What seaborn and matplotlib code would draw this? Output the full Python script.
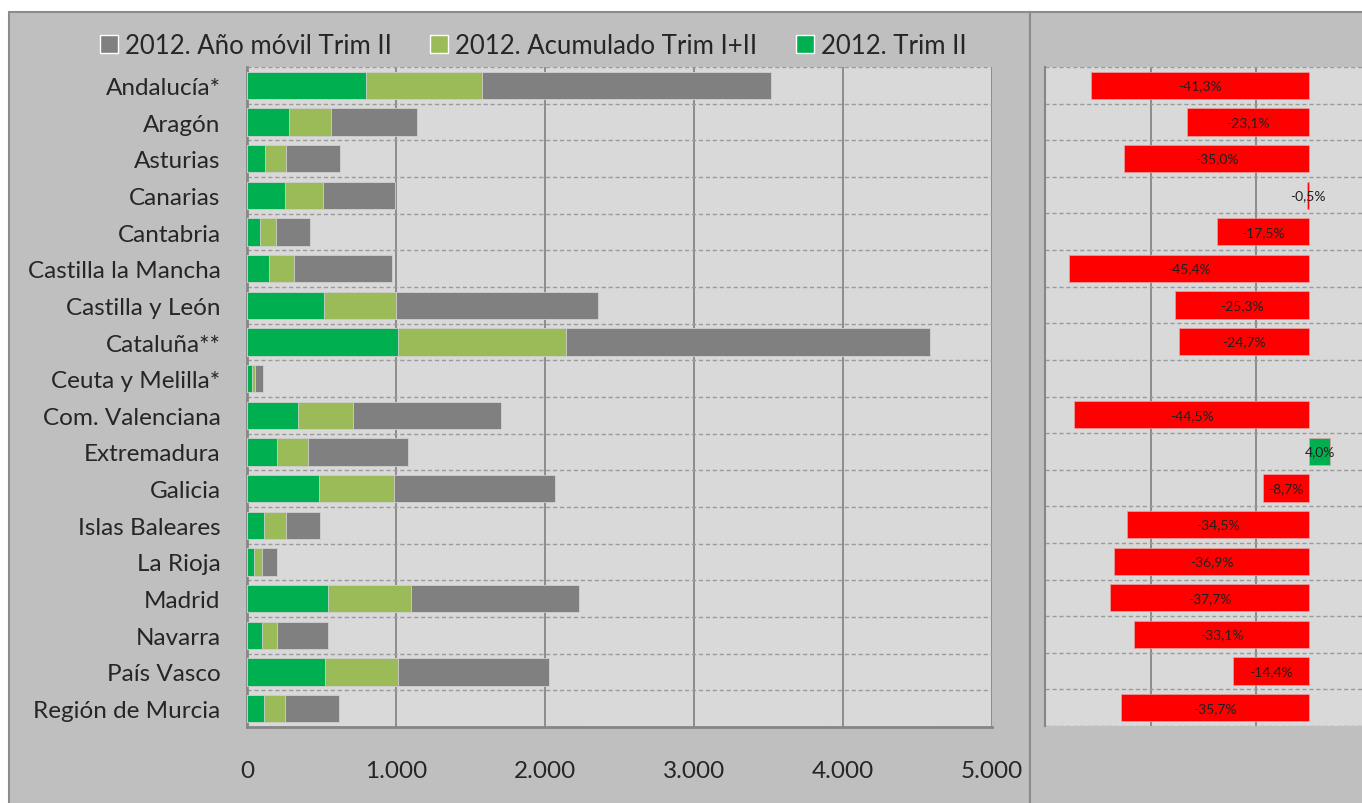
import matplotlib
matplotlib.use('Agg')
import matplotlib.pyplot as plt
from matplotlib.patches import Rectangle, Patch
import numpy as np
import pandas as pd
import seaborn as sns

# datos
regiones = ['Andalucía*', 'Aragón', 'Asturias', 'Canarias', 'Cantabria',
            'Castilla la Mancha', 'Castilla y León', 'Cataluña**', 'Ceuta y Melilla*',
            'Com. Valenciana', 'Extremadura', 'Galicia', 'Islas Baleares', 'La Rioja',
            'Madrid', 'Navarra', 'País Vasco', 'Región de Murcia']
trim_ii = [799, 285, 123, 258, 87, 150, 520, 1015, 33, 339, 201, 486, 114, 45, 544, 99, 523, 117]
acumulado = [1574, 562, 261, 508, 195, 318, 1003, 2141, 57, 712, 408, 988, 261, 99, 1102, 204, 1015, 255]
anio_movil = [3517, 1141, 622, 994, 426, 973, 2354, 4586, 105, 1706, 1081, 2066, 489, 204, 2231, 541, 2027, 616]
variacion = [-41.3, -23.1, -35.0, -0.5, -17.5, -45.4, -25.3, -24.7, np.nan, -44.5, 4.0,
             -8.7, -34.5, -36.9, -37.7, -33.1, -14.4, -35.7]
series = ['2012. Año móvil Trim II', '2012. Acumulado Trim I+II', '2012. Trim II']
xticks = [0, 1000, 2000, 3000, 4000, 5000]
xtick_labels = ['0', '1.000', '2.000', '3.000', '4.000', '5.000']

c_gris = '#808080'
c_verde_claro = '#9bbb59'
c_verde = '#00b050'

sns.set_style('white')
plt.rcParams['font.family'] = ['Lato', 'DejaVu Sans']

W, H = 1362, 804
fig = plt.figure(figsize=(W / 100, H / 100), dpi=100)

# fondos de los dos paneles
fig.patches.append(Rectangle((9 / W, -0.01), (1030 - 9) / W, (H - 13) / H + 0.01,
                             transform=fig.transFigure, facecolor='#bfbfbf',
                             edgecolor='#8c8c8c', lw=1.5, zorder=-2))
fig.patches.append(Rectangle((1030 / W, -0.01), (W - 1030) / W + 0.01, (H - 13) / H + 0.01,
                             transform=fig.transFigure, facecolor='#bfbfbf',
                             edgecolor='#8c8c8c', lw=1.5, zorder=-2))

ax = fig.add_axes([247 / W, (H - 728) / H, (992 - 247) / W, (728 - 68) / H])
ax2 = fig.add_axes([1045 / W, (H - 727) / H, (W - 1045) / W, (727 - 68) / H])

# panel izquierdo: barras superpuestas
for vals, col in [(anio_movil, c_gris), (acumulado, c_verde_claro), (trim_ii, c_verde)]:
    sns.barplot(x=vals, y=regiones, color=col, orient='h', width=0.745, saturation=1,
                edgecolor='#d0d0d0', linewidth=0.6, ax=ax, zorder=3)

ax.set_facecolor('#d9d9d9')
ax.set_xlim(0, 5000)
ax.set_ylim(17.5, -0.5)
ax.set_xticks(xticks)
ax.set_xticklabels(xtick_labels, fontsize=17.5)
ax.set_yticks(np.arange(-0.5, 18, 1), minor=True)
ax.tick_params(axis='y', which='major', length=0, pad=19, labelsize=17.5)
ax.tick_params(axis='y', which='minor', length=4, color='#868686', width=1.2, direction='out')
ax.tick_params(axis='x', which='major', length=4, color='#868686', width=1.2,
               direction='out', pad=20)
ax.grid(axis='x', which='major', color='#868686', lw=1.3, zorder=0)
ax.grid(axis='y', which='minor', color='#9a9a9a', lw=1, ls=(0, (3, 2)), zorder=0)
ax.grid(axis='y', which='major', visible=False)
ax.set_axisbelow(True)
for s in ['top', 'right']:
    ax.spines[s].set_visible(False)
for s in ['left', 'bottom']:
    ax.spines[s].set_color('#868686')
    ax.spines[s].set_linewidth(2)
ax.set_xlabel('')
ax.set_ylabel('')

handles = [Patch(facecolor=c) for c in [c_gris, c_verde_claro, c_verde]]
fig.legend(handles, series, loc='center', bbox_to_anchor=(533 / W, 1 - 46 / H), ncol=3,
           frameon=False, fontsize=18.5, handlelength=0.7, handleheight=0.7,
           handletextpad=0.27, columnspacing=1.5)

# panel derecho: variacion %
df = pd.DataFrame({'region': regiones, 'variacion': variacion})
df['signo'] = np.where(df['variacion'] < 0, 'neg', 'pos')
df = df.dropna()
sns.barplot(data=df, x='variacion', y='region', hue='signo', order=regiones,
            palette={'neg': '#ff0000', 'pos': c_verde}, dodge=False, legend=False,
            width=0.745, saturation=1, edgecolor='#e8a0a0', linewidth=0.5, ax=ax2, zorder=3)
for cont in ax2.containers:
    ax2.bar_label(cont, fmt=lambda v: f'{v:.1f}%'.replace('.', ','), label_type='center',
                  fontsize=10, color='#202020')

ax2.set_facecolor('#d9d9d9')
ax2.set_xlim(-50, 10)
ax2.set_ylim(17.5, -0.5)
ax2.set_xticks([-30, -10])
ax2.set_xticklabels([])
ax2.set_yticks([])
ax2.set_yticks(np.arange(-0.5, 18, 1), minor=True)
ax2.tick_params(which='both', length=0)
ax2.grid(axis='x', which='major', color='#868686', lw=1.3, zorder=0)
ax2.grid(axis='y', which='minor', color='#9a9a9a', lw=1, ls=(0, (3, 2)), zorder=0)
ax2.set_axisbelow(True)
for s in ['top', 'right', 'bottom']:
    ax2.spines[s].set_visible(False)
ax2.spines['left'].set_color('#868686')
ax2.spines['left'].set_linewidth(1.5)
ax2.set_xlabel('')
ax2.set_ylabel('')

fig.savefig('out.png', dpi=100, facecolor='white')
